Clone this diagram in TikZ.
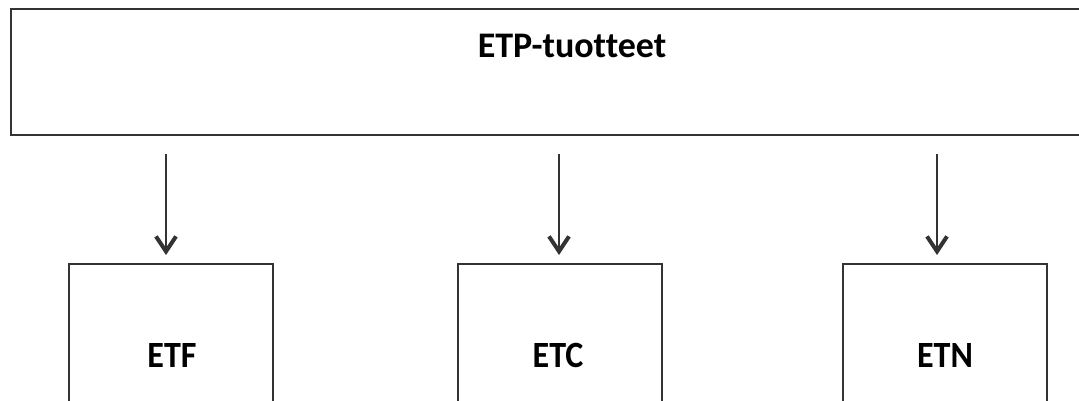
\documentclass[tikz,border=0pt]{standalone}
\usepackage{fontspec}
\setmainfont{Carlito}[Ligatures=NoCommon]
\usetikzlibrary{arrows.meta}
\definecolor{edge}{HTML}{333333}
\tikzset{
  frame/.style={draw=edge, line width=2.2pt, fill=white, inner sep=0pt},
  label/.style={text=black, inner sep=0pt, anchor=base},
  toplabel/.style={label, font=\bfseries\fontsize{36}{40}\selectfont},
  boxlabel/.style={label, font=\bfseries\fontsize{37}{42}\selectfont, xscale=0.92},
  link/.style={draw=edge, line width=2.6pt,
    -{Straight Barb[length=15pt,width=20pt,line width=4pt]}, shorten >=8pt}
}
\begin{document}
\begin{tikzpicture}[x=1pt,y=-1pt]
  \useasboundingbox (0,0) rectangle (1079,400);
  \clip (0,0) rectangle (1079,400);
  % parent box
  \node[frame, minimum width=1070pt, minimum height=126pt, anchor=north west] (top) at (10,8) {};
  \node[toplabel] (toptxt) at (572,57) {ETP-tuotteet};
  % child boxes (their lower edges run off the page)
  \node[frame, minimum width=204pt, minimum height=150pt, anchor=north west] (etf) at (68,263) {};
  \node[frame, minimum width=204pt, minimum height=150pt, anchor=north west] (etc) at (457,263) {};
  \node[frame, minimum width=204pt, minimum height=150pt, anchor=north west] (etn) at (842,263) {};
  \node[boxlabel] (etftxt) at (172,367) {ETF};
  \node[boxlabel] (etctxt) at (558,367) {ETC};
  \node[boxlabel] (etntxt) at (945,367) {ETN};
  % arrows
  \coordinate (s1) at (166,154);
  \coordinate (s2) at (559,154);
  \coordinate (s3) at (937,154);
  \draw[link] (s1) -- (s1 |- etf.north);
  \draw[link] (s2) -- (s2 |- etc.north);
  \draw[link] (s3) -- (s3 |- etn.north);
\end{tikzpicture}
\end{document}
